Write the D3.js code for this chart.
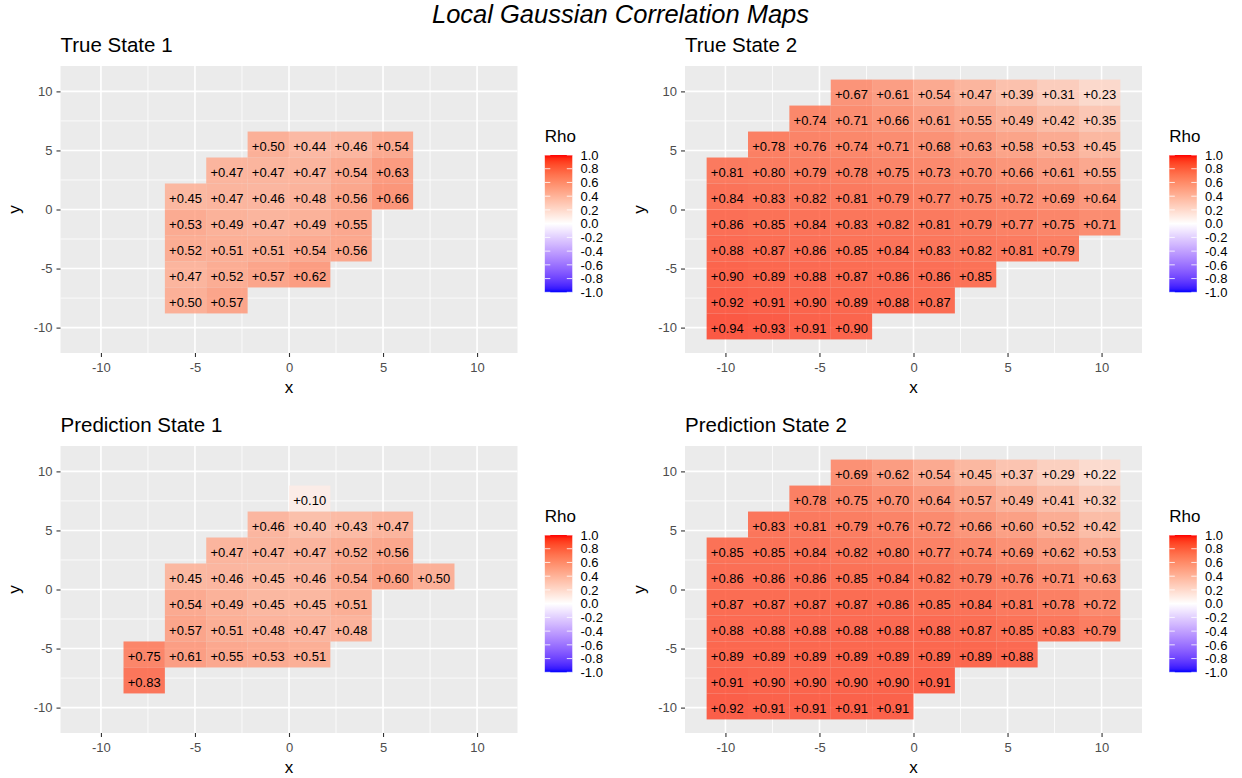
<!DOCTYPE html>
<html>
<head>
<meta charset="utf-8">
<script src="https://cdn.jsdelivr.net/npm/d3@7"></script>
<style>
  html, body { margin: 0; padding: 0; background: #ffffff; }
  svg { display: block; }
  text { font-family: "Liberation Sans", Arial, Helvetica, sans-serif; }
</style>
</head>
<body>
<svg id="chart" width="1242" height="778"></svg>
<script>
// Grid of local correlation estimates: each row gives its y centre,
// the x centre of its first cell, and the rho values left to right.
const trueState1 = [
  { y: 5.5,  x0: -1.1, rho: [0.50, 0.44, 0.46, 0.54] },
  { y: 3.3,  x0: -3.3, rho: [0.47, 0.47, 0.47, 0.54, 0.63] },
  { y: 1.1,  x0: -5.5, rho: [0.45, 0.47, 0.46, 0.48, 0.56, 0.66] },
  { y: -1.1, x0: -5.5, rho: [0.53, 0.49, 0.47, 0.49, 0.55] },
  { y: -3.3, x0: -5.5, rho: [0.52, 0.51, 0.51, 0.54, 0.56] },
  { y: -5.5, x0: -5.5, rho: [0.47, 0.52, 0.57, 0.62] },
  { y: -7.7, x0: -5.5, rho: [0.50, 0.57] }
];

const trueState2 = [
  { y: 9.9,  x0: -3.3, rho: [0.67, 0.61, 0.54, 0.47, 0.39, 0.31, 0.23] },
  { y: 7.7,  x0: -5.5, rho: [0.74, 0.71, 0.66, 0.61, 0.55, 0.49, 0.42, 0.35] },
  { y: 5.5,  x0: -7.7, rho: [0.78, 0.76, 0.74, 0.71, 0.68, 0.63, 0.58, 0.53, 0.45] },
  { y: 3.3,  x0: -9.9, rho: [0.81, 0.80, 0.79, 0.78, 0.75, 0.73, 0.70, 0.66, 0.61, 0.55] },
  { y: 1.1,  x0: -9.9, rho: [0.84, 0.83, 0.82, 0.81, 0.79, 0.77, 0.75, 0.72, 0.69, 0.64] },
  { y: -1.1, x0: -9.9, rho: [0.86, 0.85, 0.84, 0.83, 0.82, 0.81, 0.79, 0.77, 0.75, 0.71] },
  { y: -3.3, x0: -9.9, rho: [0.88, 0.87, 0.86, 0.85, 0.84, 0.83, 0.82, 0.81, 0.79] },
  { y: -5.5, x0: -9.9, rho: [0.90, 0.89, 0.88, 0.87, 0.86, 0.86, 0.85] },
  { y: -7.7, x0: -9.9, rho: [0.92, 0.91, 0.90, 0.89, 0.88, 0.87] },
  { y: -9.9, x0: -9.9, rho: [0.94, 0.93, 0.91, 0.90] }
];

const predState1 = [
  { y: 7.7,  x0: 1.1,  rho: [0.10] },
  { y: 5.5,  x0: -1.1, rho: [0.46, 0.40, 0.43, 0.47] },
  { y: 3.3,  x0: -3.3, rho: [0.47, 0.47, 0.47, 0.52, 0.56] },
  { y: 1.1,  x0: -5.5, rho: [0.45, 0.46, 0.45, 0.46, 0.54, 0.60, 0.50] },
  { y: -1.1, x0: -5.5, rho: [0.54, 0.49, 0.45, 0.45, 0.51] },
  { y: -3.3, x0: -5.5, rho: [0.57, 0.51, 0.48, 0.47, 0.48] },
  { y: -5.5, x0: -7.7, rho: [0.75, 0.61, 0.55, 0.53, 0.51] },
  { y: -7.7, x0: -7.7, rho: [0.83] }
];

const predState2 = [
  { y: 9.9,  x0: -3.3, rho: [0.69, 0.62, 0.54, 0.45, 0.37, 0.29, 0.22] },
  { y: 7.7,  x0: -5.5, rho: [0.78, 0.75, 0.70, 0.64, 0.57, 0.49, 0.41, 0.32] },
  { y: 5.5,  x0: -7.7, rho: [0.83, 0.81, 0.79, 0.76, 0.72, 0.66, 0.60, 0.52, 0.42] },
  { y: 3.3,  x0: -9.9, rho: [0.85, 0.85, 0.84, 0.82, 0.80, 0.77, 0.74, 0.69, 0.62, 0.53] },
  { y: 1.1,  x0: -9.9, rho: [0.86, 0.86, 0.86, 0.85, 0.84, 0.82, 0.79, 0.76, 0.71, 0.63] },
  { y: -1.1, x0: -9.9, rho: [0.87, 0.87, 0.87, 0.87, 0.86, 0.85, 0.84, 0.81, 0.78, 0.72] },
  { y: -3.3, x0: -9.9, rho: [0.88, 0.88, 0.88, 0.88, 0.88, 0.88, 0.87, 0.85, 0.83, 0.79] },
  { y: -5.5, x0: -9.9, rho: [0.89, 0.89, 0.89, 0.89, 0.89, 0.89, 0.89, 0.88] },
  { y: -7.7, x0: -9.9, rho: [0.91, 0.90, 0.90, 0.90, 0.90, 0.91] },
  { y: -9.9, x0: -9.9, rho: [0.92, 0.91, 0.91, 0.91, 0.91] }
];

const panelTitles = ["True State 1", "True State 2", "Prediction State 1", "Prediction State 2"];
const axisTicks = [-10, -5, 0, 5, 10];
const minorTicks = [-7.5, -2.5, 2.5, 7.5];
const rhoBreaks = [1.0, 0.8, 0.6, 0.4, 0.2, 0.0, -0.2, -0.4, -0.6, -0.8, -1.0];
const cellSize = 2.2;
const mainTitle = "Local Gaussian Correlation Maps";

// ---- layout ----
const W = 1242, H = 778;
const panelW = 457, panelH = 287;
const domainHalf = 12.15;
const tileAlpha = 0.78;
const panelBoxes = [
  { left: 60.5, top: 66 },
  { left: 685,  top: 66 },
  { left: 60.5, top: 446 },
  { left: 685,  top: 446 }
];
const panelData = [trueState1, trueState2, predState1, predState2];

const svg = d3.select("#chart");
svg.append("rect").attr("width", W).attr("height", H).attr("fill", "#ffffff");

// diverging blue-white-red fill, interpolated in Lab space
const fill = d3.scaleLinear()
  .domain([-1, 0, 1])
  .range(["#0000ff", "#ffffff", "#ff0000"])
  .interpolate(d3.interpolateLab)
  .clamp(true);

const fmt = v => (v >= 0 ? "+" : "-") + Math.abs(v).toFixed(2);

// gradient used by every colour bar
const defs = svg.append("defs");
const grad = defs.append("linearGradient")
  .attr("id", "rhoGrad").attr("x1", 0).attr("y1", 0).attr("x2", 0).attr("y2", 1);
d3.range(0, 41).forEach(i => {
  const t = i / 40;
  grad.append("stop").attr("offset", t).attr("stop-color", fill(1 - 2 * t));
});

svg.append("text")
  .attr("x", 620.5).attr("y", 22.5)
  .attr("text-anchor", "middle")
  .attr("font-size", 25.5)
  .attr("font-style", "italic")
  .attr("fill", "#000000")
  .text(mainTitle);

panelData.forEach((rows, pi) => {
  const box = panelBoxes[pi];
  const x = d3.scaleLinear().domain([-domainHalf, domainHalf]).range([box.left, box.left + panelW]);
  const y = d3.scaleLinear().domain([-domainHalf, domainHalf]).range([box.top + panelH, box.top]);
  const g = svg.append("g");

  // panel background and grid
  g.append("rect")
    .attr("x", box.left).attr("y", box.top)
    .attr("width", panelW).attr("height", panelH)
    .attr("fill", "#ebebeb");

  g.selectAll(".vminor").data(minorTicks).join("line")
    .attr("x1", d => x(d)).attr("x2", d => x(d))
    .attr("y1", box.top).attr("y2", box.top + panelH)
    .attr("stroke", "#ffffff").attr("stroke-width", 0.8);
  g.selectAll(".hminor").data(minorTicks).join("line")
    .attr("y1", d => y(d)).attr("y2", d => y(d))
    .attr("x1", box.left).attr("x2", box.left + panelW)
    .attr("stroke", "#ffffff").attr("stroke-width", 0.8);
  g.selectAll(".vmajor").data(axisTicks).join("line")
    .attr("x1", d => x(d)).attr("x2", d => x(d))
    .attr("y1", box.top).attr("y2", box.top + panelH)
    .attr("stroke", "#ffffff").attr("stroke-width", 1.6);
  g.selectAll(".hmajor").data(axisTicks).join("line")
    .attr("y1", d => y(d)).attr("y2", d => y(d))
    .attr("x1", box.left).attr("x2", box.left + panelW)
    .attr("stroke", "#ffffff").attr("stroke-width", 1.6);

  // tiles
  const cells = [];
  rows.forEach(r => {
    r.rho.forEach((v, i) => {
      cells.push({ cx: +(r.x0 + i * cellSize).toFixed(2), cy: r.y, v });
    });
  });

  g.selectAll(".tile").data(cells).join("rect")
    .attr("x", d => x(d.cx - cellSize / 2))
    .attr("y", d => y(d.cy + cellSize / 2))
    .attr("width", d => x(d.cx + cellSize / 2) - x(d.cx - cellSize / 2))
    .attr("height", d => y(d.cy - cellSize / 2) - y(d.cy + cellSize / 2))
    .attr("fill", d => fill(d.v))
    .attr("fill-opacity", tileAlpha);

  g.selectAll(".lab").data(cells).join("text")
    .attr("x", d => x(d.cx))
    .attr("y", d => y(d.cy))
    .attr("dy", "0.5em")
    .attr("text-anchor", "middle")
    .attr("font-size", 13)
    .attr("fill", "#000000")
    .text(d => fmt(d.v));

  // x axis
  const xAxis = d3.axisBottom(x).tickValues(axisTicks).tickSize(4).tickPadding(5.5)
    .tickFormat(d => d < 0 ? "-" + Math.abs(d) : String(d));
  const xa = g.append("g").attr("transform", `translate(0,${box.top + panelH})`).call(xAxis);
  xa.select(".domain").remove();
  xa.selectAll(".tick line").attr("stroke", "#333333").attr("stroke-width", 1.1);
  xa.selectAll(".tick text").attr("fill", "#4d4d4d").attr("font-size", 13)
    .attr("font-family", "Liberation Sans, Arial, Helvetica, sans-serif");

  // y axis
  const yAxis = d3.axisLeft(y).tickValues(axisTicks).tickSize(4).tickPadding(4)
    .tickFormat(d => d < 0 ? "-" + Math.abs(d) : String(d));
  const ya = g.append("g").attr("transform", `translate(${box.left},0)`).call(yAxis);
  ya.select(".domain").remove();
  ya.selectAll(".tick line").attr("stroke", "#333333").attr("stroke-width", 1.1);
  ya.selectAll(".tick text").attr("fill", "#4d4d4d").attr("font-size", 13)
    .attr("font-family", "Liberation Sans, Arial, Helvetica, sans-serif");

  // axis titles
  g.append("text")
    .attr("x", box.left + panelW / 2).attr("y", box.top + panelH + 40)
    .attr("text-anchor", "middle").attr("font-size", 17).attr("fill", "#000000")
    .text("x");
  g.append("text")
    .attr("transform", `translate(${box.left - 40.5},${box.top + panelH / 2}) rotate(-90)`)
    .attr("text-anchor", "middle").attr("font-size", 17).attr("fill", "#000000")
    .text("y");

  // panel title
  g.append("text")
    .attr("x", box.left).attr("y", box.top - 14)
    .attr("font-size", 20.5).attr("fill", "#000000")
    .text(panelTitles[pi]);

  // colour bar legend
  const barX = box.left + 484.3, barTop = box.top + 89, barW = 27.5, barH = 137.3;
  const ly = d3.scaleLinear().domain([1, -1]).range([barTop, barTop + barH]);
  g.append("text")
    .attr("x", barX).attr("y", box.top + 75.7)
    .attr("font-size", 17).attr("fill", "#000000")
    .text("Rho");
  g.append("rect")
    .attr("x", barX).attr("y", barTop).attr("width", barW).attr("height", barH)
    .attr("fill", "url(#rhoGrad)");
  g.selectAll(".lt1").data(rhoBreaks).join("line")
    .attr("x1", barX).attr("x2", barX + barW / 5)
    .attr("y1", d => ly(d)).attr("y2", d => ly(d))
    .attr("stroke", "#ffffff").attr("stroke-width", 0.8);
  g.selectAll(".lt2").data(rhoBreaks).join("line")
    .attr("x1", barX + barW * 4 / 5).attr("x2", barX + barW)
    .attr("y1", d => ly(d)).attr("y2", d => ly(d))
    .attr("stroke", "#ffffff").attr("stroke-width", 0.8);
  g.selectAll(".ll").data(rhoBreaks).join("text")
    .attr("x", barX + 35.7)
    .attr("y", d => ly(d))
    .attr("dy", "0.36em")
    .attr("font-size", 13).attr("fill", "#000000")
    .text(d => (d < 0 ? "-" : "") + Math.abs(d).toFixed(1));
});
</script>
</body>
</html>
